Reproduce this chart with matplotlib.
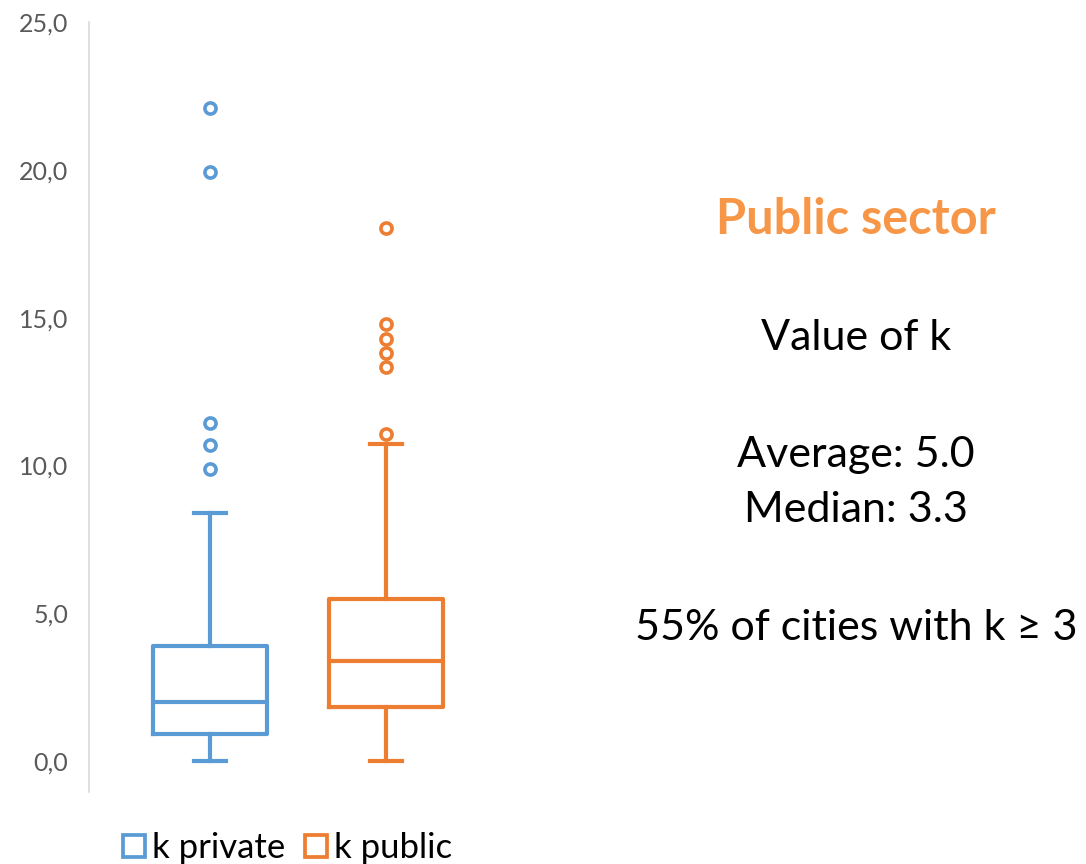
import matplotlib
matplotlib.use("Agg")
import matplotlib.pyplot as plt
from matplotlib.lines import Line2D
from matplotlib.ticker import FuncFormatter

plt.rcParams["font.family"] = ["Lato", "DejaVu Sans"]

# box statistics
labels = ["k private", "k public"]
whislo = [0.0, 0.0]
q1 = [0.9, 1.82]
med = [1.99, 3.38]
q3 = [3.9, 5.48]
whishi = [8.38, 10.71]
fliers_private = [22.08, 19.94, 11.44, 10.69, 9.87]
fliers_public = [18.02, 14.78, 14.26, 13.79, 13.34, 11.05]
colors = ["#5B9BD5", "#ED7D31"]

stats = []
for i, fl in enumerate([fliers_private, fliers_public]):
    stats.append({"label": labels[i], "whislo": whislo[i], "q1": q1[i], "med": med[i],
                  "q3": q3[i], "whishi": whishi[i], "fliers": fl})

fig = plt.figure(figsize=(10.86, 8.64), dpi=100)
ax = fig.add_axes([89 / 1086, 72 / 864, 471 / 1086, 770 / 864])

lw = 3.0
for i, s in enumerate(stats):
    c = colors[i]
    ax.bxp([s], positions=[i + 1], widths=0.648, capwidths=0.18, showfliers=True,
           boxprops=dict(color=c, linewidth=lw),
           medianprops=dict(color=c, linewidth=lw),
           whiskerprops=dict(color=c, linewidth=lw),
           capprops=dict(color=c, linewidth=lw),
           flierprops=dict(marker="o", markerfacecolor="white", markeredgecolor=c,
                           markersize=8, markeredgewidth=2.6))

ax.set_xlim(0.3125, 2.989)
ax.set_ylim(-1.05, 25)
ax.set_yticks([0, 5, 10, 15, 20, 25])
ax.yaxis.set_major_formatter(FuncFormatter(lambda v, p: f"{v:.1f}".replace(".", ",")))
ax.tick_params(axis="y", length=0, pad=15, labelsize=18, labelcolor="#595959")
ax.set_xticks([])
for side in ["top", "right", "bottom"]:
    ax.spines[side].set_visible(False)
ax.spines["left"].set_color("#D9D9D9")
ax.spines["left"].set_linewidth(1.2)

# legend
handles = [Line2D([], [], marker="s", linestyle="none", markersize=15.5, markerfacecolor="white",
                  markeredgecolor=c, markeredgewidth=2.7) for c in colors]
fig.legend(handles, labels, loc="center left", bbox_to_anchor=(124 / 1086, 1 - 848 / 864),
           ncol=2, frameon=False, fontsize=25, handlelength=0.6, handletextpad=0.2,
           columnspacing=0.6, borderaxespad=0, borderpad=0)

# annotation block on the right
xc = 856 / 1086
fig.text(xc, 1 - 220 / 864, "Public sector", ha="center", va="center", fontsize=35,
         fontweight="bold", color="#F79646")
fig.text(xc, 1 - 338 / 864, "Value of k", ha="center", va="center", fontsize=31, color="black")
fig.text(xc, 1 - 455 / 864, "Average: 5.0", ha="center", va="center", fontsize=31, color="black")
fig.text(xc, 1 - 510 / 864, "Median: 3.3", ha="center", va="center", fontsize=31, color="black")
fig.text(xc, 1 - 628 / 864, "55% of cities with k \u2265 3", ha="center", va="center", fontsize=31,
         color="black")

fig.savefig("out.png", dpi=100)
